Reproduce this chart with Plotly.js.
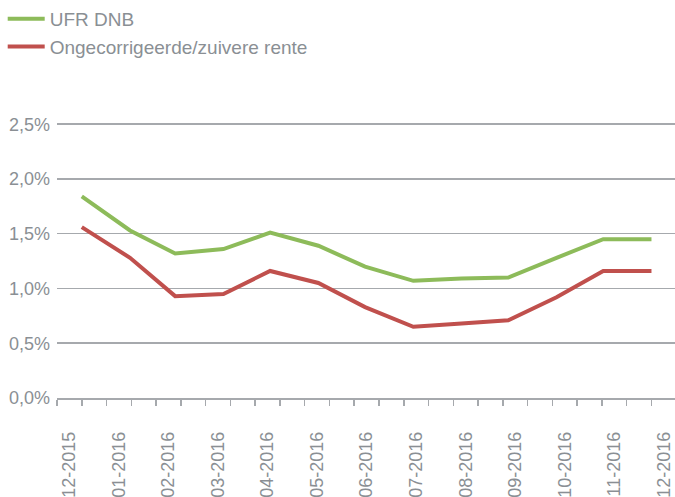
<!DOCTYPE html>
<html><head><meta charset="utf-8">
<script src="https://cdn.plot.ly/plotly-3.0.1.min.js"></script>
<style>html,body{margin:0;padding:0;background:#fff}#chart{width:675px;height:497px}</style>
</head><body><div id="chart"></div>
<script>
// ---- data ----
const monthEnds = ['2015-12-31','2016-01-31','2016-02-29','2016-03-31','2016-04-30','2016-05-31','2016-06-30','2016-07-31','2016-08-31','2016-09-30','2016-10-31','2016-11-30','2016-12-31'];
const monthLabels = ['12-2015','01-2016','02-2016','03-2016','04-2016','05-2016','06-2016','07-2016','08-2016','09-2016','10-2016','11-2016','12-2016'];
const ufrDnb = [1.84,1.53,1.32,1.36,1.51,1.39,1.20,1.07,1.09,1.10,1.28,1.45,1.45];
const ongecorrigeerd = [1.56,1.28,0.93,0.95,1.16,1.05,0.83,0.65,0.68,0.71,0.92,1.16,1.16];
const seriesNames = ['UFR DNB','Ongecorrigeerde/zuivere rente'];

// ---- styling / axis geometry ----
const spanMs = Date.parse(monthEnds[monthEnds.length-1]) - Date.parse(monthEnds[0]);
const tickStep = spanMs / 23;              // small tick marks (two per month, roughly)
const startMs = Date.parse(monthEnds[0]) - tickStep;
const endMs = startMs + 24.95 * tickStep;
const toStr = ms => new Date(ms).toISOString().replace('T',' ').replace('Z','');
const labelPos = monthLabels.map((_, k) => toStr(startMs + (0.5 + 2*k) * tickStep));

const textColor = '#8a8f94';
const gridColor = '#a6a9ad';
const font = {family: '"Liberation Sans", Arial, sans-serif', size: 18, color: textColor};
const legendFont = {family: '"Liberation Sans", Arial, sans-serif', size: 19, color: textColor};

const traces = [
  {x: monthEnds, y: ufrDnb, name: seriesNames[0], type: 'scatter', mode: 'lines',
   line: {color: '#8dbb5a', width: 4}},
  {x: monthEnds, y: ongecorrigeerd, name: seriesNames[1], type: 'scatter', mode: 'lines',
   line: {color: '#c0504d', width: 4}}
];

const layout = {
  width: 675, height: 497,
  margin: {l: 57, r: 0, t: 122, b: 99, pad: 0, autoexpand: false},
  paper_bgcolor: '#fff', plot_bgcolor: '#fff',
  font: font,
  separators: ',.',
  showlegend: true,
  legend: {xref: 'container', yref: 'container', x: 0.004, y: 1, xanchor: 'left', yanchor: 'top',
           font: legendFont, bgcolor: 'rgba(0,0,0,0)', itemwidth: 37, traceorder: 'normal'},
  xaxis: {
    type: 'date', range: [toStr(startMs), toStr(endMs)], fixedrange: true, automargin: false,
    tickmode: 'array', tickvals: labelPos, ticktext: monthLabels,
    ticks: '', tickangle: -90, tickfont: font, showgrid: false, zeroline: false,
    showline: true, linecolor: gridColor, linewidth: 1.5,
    ticklabelstandoff: 25,
    minor: {tickmode: 'linear', tick0: toStr(startMs), dtick: tickStep, ticks: 'outside',
            ticklen: 6, tickwidth: 1.5, tickcolor: gridColor, showgrid: false}
  },
  yaxis: {
    range: [0, 2.52], tickmode: 'linear', tick0: 0, dtick: 0.5, tickformat: '.1f', ticksuffix: '%',
    fixedrange: true, automargin: false,
    tickfont: font, showgrid: true, gridcolor: gridColor, gridwidth: 1.5,
    zeroline: false, showline: false, ticks: '', ticklabelstandoff: 6
  }
};

Plotly.newPlot('chart', traces, layout, {displayModeBar: false, staticPlot: true});
</script>
</body></html>
